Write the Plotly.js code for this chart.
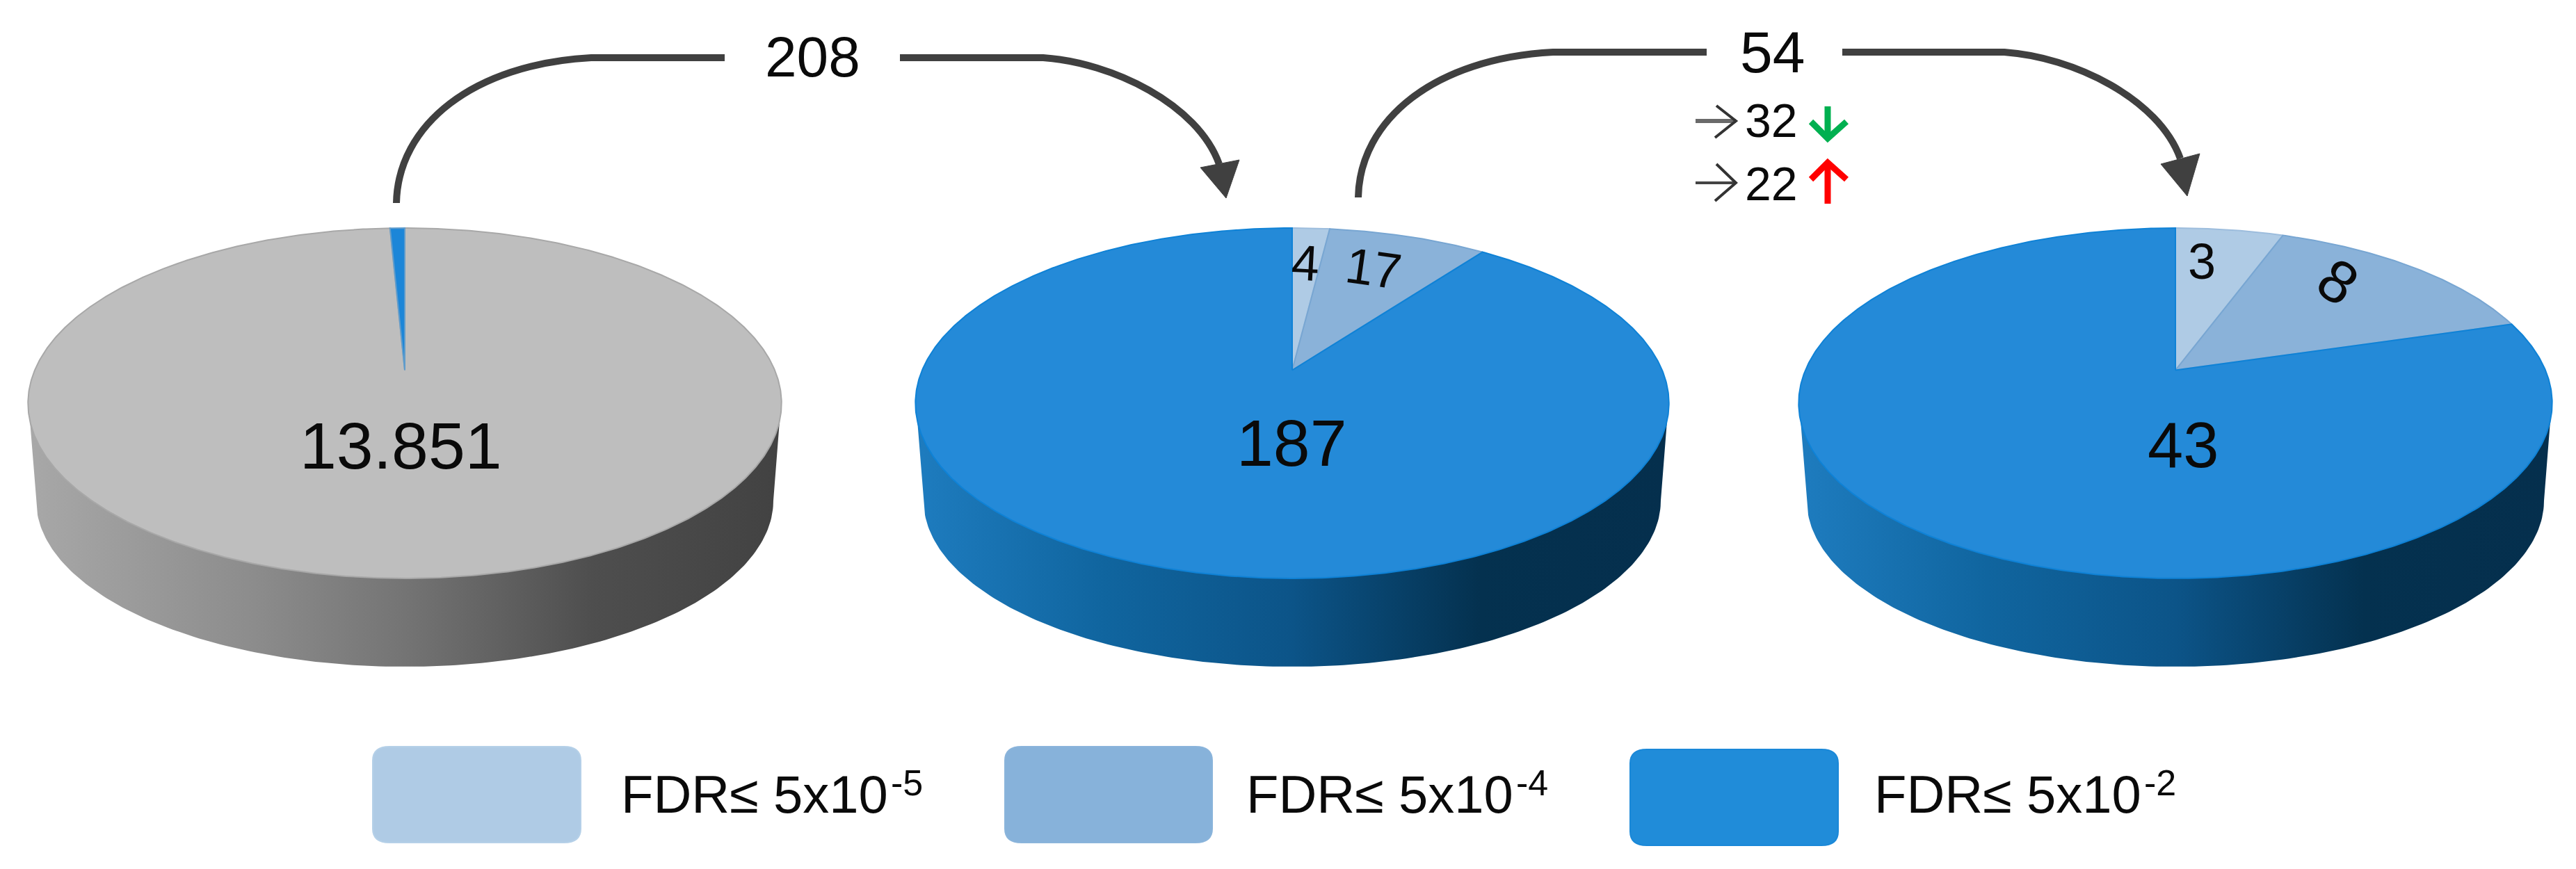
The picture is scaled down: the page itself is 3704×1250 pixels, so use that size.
<!DOCTYPE html>
<html>
<head>
<meta charset="utf-8">
<script src="https://cdn.plot.ly/plotly-3.0.1.min.js"></script>
<style>html,body{margin:0;padding:0;background:#fff}#chart{width:3704px;height:1250px}</style>
</head>
<body>
<div id="chart"></div>
<script>
// ---- chart values ----
const sliceNames = ['FDR≤ 5x10', 'FDR≤ 5x10', 'FDR≤ 5x10'];
const sliceExponents = ['-5', '-4', '-2'];
const pie1Labels = ['13.851'];
const pie1Values = [13851, 105];      // drawn sizes: the blue sliver is about 0.75% of the disc in the picture
const pie2Labels = ['4', '17', '187'];
const pie2Values = [4, 17, 187];
const pie3Labels = ['3', '8', '43'];
const pie3Values = [3, 8, 43];
const flowLabels = ['208', '54'];
const changeLabels = ['32', '22'];

// ---- styles ----
const colLight = '#afcbe5', colMid = '#8ab2d9', colBlue = '#248ad8', colGray = '#bebebe', colSliver = '#1c86d8';
const grayGrad = [[0,'#a8a8a8'],[0.3,'#8c8c8c'],[0.5,'#747474'],[0.75,'#4e4e4e'],[1,'#424242']];
const blueGrad = [[0,'#1e7cbf'],[0.25,'#10659f'],[0.5,'#0c5488'],[0.75,'#04314f'],[1,'#052f4d']];
const FONT = 'Liberation Sans, Arial, sans-serif';

// ---- geometry of the tilted discs ----
const apexY = 532.5, k = 0.1885, a = 243, c = 532;
const apexX = [582, 1858, 3128];
const sideRx = 530, sideRy = 239, sideCy = 720, topRx = 542, topCy = 580;

function project(cx, th) {
  const u = Math.sin(th), v = Math.cos(th), w = 1 + k * v;
  return [cx + c * u / w, apexY - a * v / w];
}
function sliceTrace(cx, t0, t1, fill, line) {
  const xs = [cx], ys = [apexY];
  const n = Math.max(2, Math.ceil((t1 - t0) / (Math.PI / 360)));
  for (let i = 0; i <= n; i++) {
    const p = project(cx, t0 + (t1 - t0) * i / n);
    xs.push(p[0]); ys.push(p[1]);
  }
  xs.push(cx); ys.push(apexY);
  return {type:'scatter', mode:'lines', x:xs, y:ys, fill:'toself', fillcolor:fill,
          line:{color:line, width:2}, hoverinfo:'skip', showlegend:false};
}
function sideTrace(cx, grad) {
  const xs = [cx - topRx + 1], ys = [topCy];
  for (let i = 0; i <= 180; i++) {
    const t = Math.PI * i / 180;
    xs.push(cx - sideRx * Math.cos(t)); ys.push(sideCy + sideRy * Math.sin(t));
  }
  xs.push(cx + topRx - 1); ys.push(topCy);
  xs.push(xs[0]); ys.push(ys[0]);
  return {type:'scatter', mode:'lines', x:xs, y:ys, fill:'toself',
          fillgradient:{type:'horizontal', colorscale:grad},
          line:{width:0, color:'rgba(0,0,0,0)'}, hoverinfo:'skip', showlegend:false};
}
function pieTraces(cx, values, fills, lines) {
  const total = values.reduce((s, v) => s + v, 0);
  let acc = 0;
  return values.map((v, i) => {
    const t0 = acc / total * 2 * Math.PI;
    acc += v;
    return sliceTrace(cx, t0, acc / total * 2 * Math.PI, fills[i], lines[i]);
  });
}
const traces = [
  sideTrace(apexX[0], grayGrad),
  sideTrace(apexX[1], blueGrad),
  sideTrace(apexX[2], blueGrad),
  ...pieTraces(apexX[0], pie1Values, [colGray, colSliver], ['#a8a8a8', '#5f9ccc']),
  ...pieTraces(apexX[1], pie2Values, [colLight, colMid, colBlue], ['#9dbddd', '#78a6d2', '#0f82d6']),
  ...pieTraces(apexX[2], pie3Values, [colLight, colMid, colBlue], ['#9dbddd', '#78a6d2', '#0f82d6'])
];

// ---- connectors ----
const dark = '#404040';
function stroke(d, color, width) { return {type:'path', xref:'x', yref:'y', path:d, line:{color:color, width:width}}; }
function solid(d, color) { return {type:'path', xref:'x', yref:'y', path:d, fillcolor:color, line:{color:color, width:1}}; }
function rounded(x0, y0, x1, y1, rx, ry, fill, line) {
  const d = `M${x0+rx},${y0} L${x1-rx},${y0} Q${x1},${y0} ${x1},${y0+ry} L${x1},${y1-ry} Q${x1},${y1} ${x1-rx},${y1} L${x0+rx},${y1} Q${x0},${y1} ${x0},${y1-ry} L${x0},${y0+ry} Q${x0},${y0} ${x0+rx},${y0} Z`;
  return {type:'path', xref:'x', yref:'y', path:d, fillcolor:fill, line:{color:line, width:2}};
}
const shapes = [
  stroke('M570,292 C572,180 680,92 850,83 L1042,83', dark, 10),
  stroke('M1294,83 L1500,83 C1600,90 1722,150 1753,236', dark, 10),
  solid('M1726,241 L1782,230 L1763,285 Z', dark),
  stroke('M1953,284 C1955,172 2063,84 2233,75 L2454,75', dark, 10),
  stroke('M2649,75 L2882,75 C2982,82 3104,142 3135,228', dark, 10),
  solid('M3107,236 L3163,221 L3145,282 Z', dark),
  // thin change arrows
  stroke('M2438,174 L2496,174', '#6a6a6a', 6),
  stroke('M2468,152 L2496,174 L2466,198', '#333333', 4),
  stroke('M2438,263 L2496,263', '#444444', 4),
  stroke('M2468,236 L2496,263 L2466,289', '#333333', 4),
  // up / down marks
  stroke('M2628,153 L2628,198', '#00b050', 9),
  stroke('M2604,175 L2628,199 L2655,175', '#00b050', 9),
  stroke('M2628,236 L2628,293', '#ff0000', 9),
  stroke('M2604,258 L2628,234 L2655,258', '#ff0000', 9),
  // legend swatches
  rounded(536, 1074, 835, 1212, 24, 20, colLight, '#b5d0e8'),
  rounded(1445, 1074, 1743, 1212, 24, 20, '#87b2da', '#8ab4db'),
  rounded(2344, 1078, 2643, 1216, 24, 20, '#208cd9', '#1a88d8')
];

// ---- text ----
function note(text, x, y, size, angle, anchor) {
  return {text:text, x:x, y:y, xref:'x', yref:'y', showarrow:false, xanchor:anchor || 'center', yanchor:'middle',
          textangle:angle || 0, font:{family:FONT, size:size, color:'#0a0a0a'}, borderpad:0, borderwidth:0};
}
const annotations = [
  note(flowLabels[0], 1168, 81, 82),
  note(flowLabels[1], 2548, 75, 84),
  note(pie1Labels[0], 576, 641, 95),
  note(pie2Labels[2], 1857, 637, 95),
  note(pie3Labels[2], 3139, 640, 92),
  note(pie2Labels[0], 1877, 378, 72, 3),
  note(pie2Labels[1], 1975, 386, 72, 8),
  note(pie3Labels[0], 3166, 376, 72),
  note(pie3Labels[1], 3362, 405, 86, 34),
  note(changeLabels[0], 2547, 173, 68),
  note(changeLabels[1], 2547, 264, 68),
  note(sliceNames[0], 893, 1142, 76, 0, 'left'),
  note(sliceExponents[0], 1281, 1126, 52, 0, 'left'),
  note(sliceNames[1], 1792, 1142, 76, 0, 'left'),
  note(sliceExponents[1], 2180, 1126, 52, 0, 'left'),
  note(sliceNames[2], 2695, 1142, 76, 0, 'left'),
  note(sliceExponents[2], 3083, 1126, 52, 0, 'left')
];

const hidden = {visible:false, fixedrange:true, showgrid:false, zeroline:false};
Plotly.newPlot('chart', traces, {
  width:3704, height:1250,
  margin:{l:0, r:0, t:0, b:0, pad:0},
  paper_bgcolor:'#fff', plot_bgcolor:'#fff',
  xaxis:Object.assign({range:[0, 3704]}, hidden),
  yaxis:Object.assign({range:[1250, 0]}, hidden),
  showlegend:false, shapes:shapes, annotations:annotations
}, {displayModeBar:false, staticPlot:true});
</script>
</body>
</html>
